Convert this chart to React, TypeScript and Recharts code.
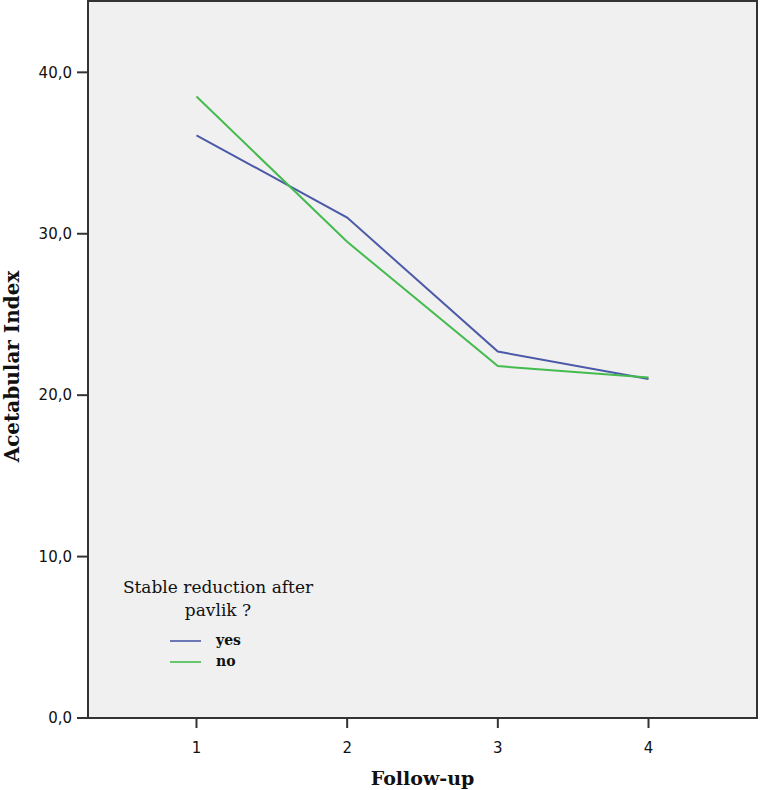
import React from 'react';
import { LineChart, Line, XAxis, YAxis, ReferenceArea, Legend } from 'recharts';

const followUps = [1, 2, 3, 4];
const yesValues = [36.1, 31.0, 22.7, 21.0];
const noValues = [38.5, 29.5, 21.8, 21.1];
const yTicks = [0, 10, 20, 30, 40];
const xTicks = [1, 2, 3, 4];
const seriesOrder = ['yes', 'no'];
const legendTitle = ['Stable reduction after', 'pavlik ?'];

const data = followUps.map((f, i) => ({ x: f, yes: yesValues[i], no: noValues[i] }));

const X_DOMAIN: [number, number] = [0.28, 4.72];
const Y_DOMAIN: [number, number] = [0, 44.42];

const BLUE = '#4b5aa8';
const GREEN = '#44bb4e';
const AXIS = '#333333';

const tickStyle = { fontFamily: 'DejaVu Sans', fontSize: 15, fill: '#111' };

const LegendContent = (props: any) => {
  const payload = [...(props.payload || [])].sort(
    (a: any, b: any) => seriesOrder.indexOf(a.value) - seriesOrder.indexOf(b.value)
  );
  return (
    <div style={{ fontFamily: 'DejaVu Serif', color: '#111', width: 200 }}>
      <div style={{ textAlign: 'center', fontSize: 17, lineHeight: '23px' }}>
        {legendTitle.map((t) => (
          <div key={t}>{t}</div>
        ))}
      </div>
      <div style={{ marginTop: 8 }}>
        {payload.map((p: any) => (
          <div key={p.value} style={{ display: 'flex', alignItems: 'center', height: 21 }}>
            <div style={{ marginLeft: 52, width: 31, height: 2, background: p.color, opacity: 0.8 }} />
            <span style={{ marginLeft: 15, fontSize: 14, fontWeight: 'bold', lineHeight: '21px' }}>{p.value}</span>
          </div>
        ))}
      </div>
    </div>
  );
};

const YTitle = (props: any) => {
  const vb = props.viewBox || {};
  const cx = 12;
  const cy = vb.y + vb.height / 2 + 7;
  return (
    <text
      x={cx}
      y={cy}
      transform={`rotate(-90, ${cx}, ${cy})`}
      textAnchor="middle"
      dominantBaseline="central"
      style={{ fontFamily: 'DejaVu Serif', fontWeight: 'bold', fontSize: 20, fill: '#111' }}
    >
      Acetabular Index
    </text>
  );
};

const XTitle = (props: any) => {
  const vb = props.viewBox || {};
  const cx = vb.x + vb.width / 2;
  return (
    <text
      x={cx}
      y={778}
      textAnchor="middle"
      dominantBaseline="central"
      style={{ fontFamily: 'DejaVu Serif', fontWeight: 'bold', fontSize: 19, fill: '#111' }}
    >
      Follow-up
    </text>
  );
};

export default function App() {
  return (
    <div style={{ position: 'absolute', left: 0, top: 0, width: 761, height: 790, background: '#fff' }}>
      <LineChart width={761} height={790} data={data} margin={{ top: 1, right: 4, left: 0, bottom: 0 }}>
        <ReferenceArea
          x1={X_DOMAIN[0]}
          x2={X_DOMAIN[1]}
          y1={Y_DOMAIN[0]}
          y2={Y_DOMAIN[1]}
          fill="#f0f0f0"
          fillOpacity={1}
          stroke={AXIS}
          strokeWidth={2}
          ifOverflow="visible"
        />
        <XAxis
          dataKey="x"
          type="number"
          domain={X_DOMAIN}
          ticks={xTicks}
          allowDataOverflow
          height={72}
          tickSize={10}
          tickMargin={14}
          tick={tickStyle}
          axisLine={{ stroke: AXIS, strokeWidth: 2 }}
          tickLine={{ stroke: AXIS, strokeWidth: 2 }}
          label={<XTitle />}
        />
        <YAxis
          type="number"
          domain={Y_DOMAIN}
          ticks={yTicks}
          allowDataOverflow
          width={88}
          tickSize={11}
          tickMargin={5}
          tick={tickStyle}
          tickFormatter={(v: number) => v.toFixed(1).replace('.', ',')}
          axisLine={{ stroke: AXIS, strokeWidth: 2 }}
          tickLine={{ stroke: AXIS, strokeWidth: 2 }}
          label={<YTitle />}
        />
        <Line
          type="linear"
          dataKey="yes"
          name="yes"
          stroke={BLUE}
          strokeWidth={2}
          dot={false}
          activeDot={false}
          isAnimationActive={false}
        />
        <Line
          type="linear"
          dataKey="no"
          name="no"
          stroke={GREEN}
          strokeWidth={2}
          dot={false}
          activeDot={false}
          isAnimationActive={false}
        />
        <Legend
          layout="vertical"
          align="center"
          verticalAlign="middle"
          content={<LegendContent />}
          wrapperStyle={{ position: 'absolute', left: 118, top: 576, width: 200, bottom: 'auto' }}
        />
      </LineChart>
    </div>
  );
}
